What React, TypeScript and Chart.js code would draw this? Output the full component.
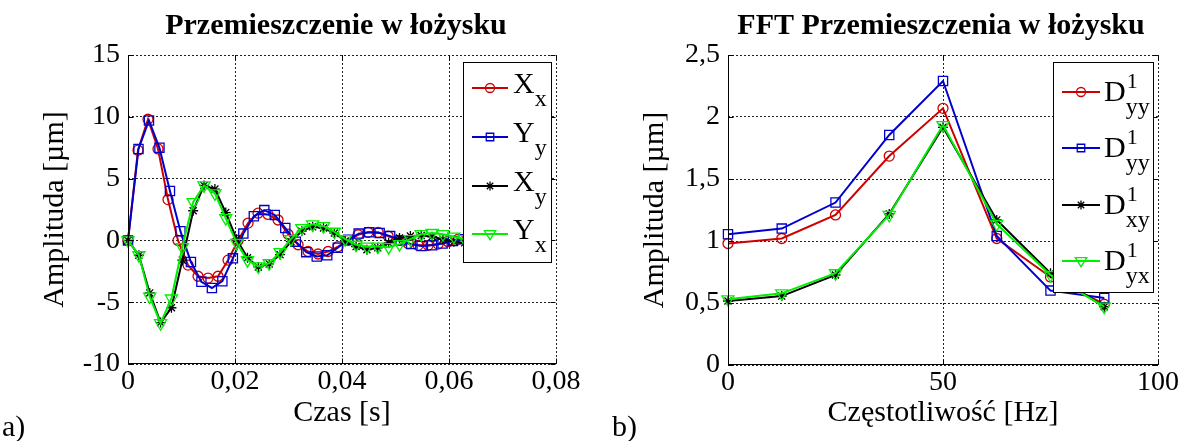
import React, { useEffect, useRef } from "react";
import { Chart, registerables } from "chart.js";

Chart.register(...registerables);

const FONT = "'Liberation Serif', 'Times New Roman', serif";
const RED = "#cc0000";
const BLUE = "#0000cc";
const BLACK = "#000000";
const GREEN = "#00ee00";

// ---- Left chart: displacement in the bearing ----
const timeXx = [0, 0.00187, 0.00374, 0.00561, 0.00748, 0.00935, 0.01122, 0.01309, 0.01496, 0.01683, 0.0187, 0.02057, 0.02244, 0.02431, 0.02618, 0.02805, 0.02992, 0.03179, 0.03366, 0.03553, 0.0374, 0.03927, 0.04114, 0.04301, 0.04488, 0.04675, 0.04862, 0.05049, 0.05236, 0.05423, 0.0561, 0.05797, 0.05984, 0.06171, 0.06358];
const valXx = [0, 7.3, 9.8, 7.4, 3.3, 0.0, -2.0, -2.9, -3.05, -2.9, -1.6, 0.0, 1.4, 2.2, 2.1, 1.65, 0.5, -0.35, -0.9, -1.1, -0.9, -0.5, 0.0, 0.45, 0.65, 0.65, 0.35, 0.0, -0.25, -0.4, -0.4, -0.3, -0.1, 0.1, 0.2];

const timeYy = [0, 0.00196, 0.00392, 0.00588, 0.00784, 0.0098, 0.01176, 0.01372, 0.01568, 0.01764, 0.0196, 0.02156, 0.02352, 0.02548, 0.02744, 0.0294, 0.03136, 0.03332, 0.03528, 0.03724, 0.0392, 0.04116, 0.04312, 0.04508, 0.04704, 0.049, 0.05096, 0.05292, 0.05488, 0.05684, 0.0588, 0.06076, 0.06272, 0.06468];
const valYy = [0, 7.4, 9.7, 7.5, 4.0, 0.75, -1.75, -3.35, -3.85, -3.3, -1.45, 0.55, 1.95, 2.45, 2.05, 1.0, -0.1, -0.95, -1.3, -1.2, -0.6, 0.05, 0.55, 0.65, 0.6, 0.35, 0.0, -0.3, -0.45, -0.4, -0.25, -0.05, 0.1, 0.2];

const timeCross = [0, 0.00203, 0.00406, 0.00609, 0.00812, 0.01015, 0.01218, 0.01421, 0.01624, 0.01827, 0.0203, 0.02233, 0.02436, 0.02639, 0.02842, 0.03045, 0.03248, 0.03451, 0.03654, 0.03857, 0.0406, 0.04263, 0.04466, 0.04669, 0.04872, 0.05075, 0.05278, 0.05481, 0.05684, 0.05887, 0.0609, 0.06293];
const valXy = [0, -1.2, -4.25, -6.65, -5.45, -1.6, 2.4, 4.45, 4.15, 2.25, 0.1, -1.4, -2.15, -1.9, -1.15, -0.1, 0.75, 1.1, 1.0, 0.6, -0.05, -0.5, -0.75, -0.6, -0.2, 0.2, 0.35, 0.4, 0.3, 0.1, -0.1, -0.2];
const valYx = [0, -1.2, -4.55, -6.7, -4.7, -0.55, 3.1, 4.45, 3.8, 1.8, -0.2, -1.6, -2.1, -1.85, -0.95, 0.1, 1.0, 1.3, 1.15, 0.7, 0.1, -0.35, -0.5, -0.5, -0.55, -0.3, 0.1, 0.5, 0.6, 0.5, 0.3, 0.1];

const leftXTicks = [0, 0.02, 0.04, 0.06, 0.08];
const leftYTicks = [-10, -5, 0, 5, 10, 15];

// ---- Right chart: FFT of displacement ----
const freqHz = [0, 12.5, 25, 37.5, 50, 62.5, 75, 87.5];
const fftDyyA = [0.98, 1.02, 1.21, 1.685, 2.07, 1.02, 0.71, 0.49];
const fftDyyB = [1.054, 1.1, 1.31, 1.855, 2.29, 1.04, 0.6, 0.54];
const fftDxy = [0.516, 0.556, 0.726, 1.218, 1.917, 1.17, 0.74, 0.47];
const fftDyx = [0.53, 0.578, 0.74, 1.21, 1.935, 1.137, 0.726, 0.47];

const rightXTicks = [0, 50, 100];
const rightYTicks = [0, 0.5, 1, 1.5, 2, 2.5];

// ---- Texts ----
const leftTitle = "Przemieszczenie w łożysku";
const rightTitle = "FFT Przemieszczenia w łożysku";
const leftXLabel = "Czas [s]";
const rightXLabel = "Częstotliwość [Hz]";
const yLabel = "Amplituda [µm]";
const leftLegendMain = ["X", "Y", "X", "Y"];
const leftLegendSub = ["x", "y", "y", "x"];
const rightLegendMain = ["D", "D", "D", "D"];
const rightLegendSup = ["1", "1", "1", "1"];
const rightLegendSub = ["yy", "yy", "xy", "yx"];

const fmt = (v: number) => String(Math.round(v * 10000) / 10000).replace(".", ",");

type Marker = "circle" | "rect" | "star" | "triangleDown";
const seriesColors = [RED, BLUE, BLACK, GREEN];
const seriesMarkers: Marker[] = ["circle", "rect", "star", "triangleDown"];

function drawMarker(ctx: CanvasRenderingContext2D, m: Marker, x: number, y: number, r: number, color: string) {
  ctx.save();
  ctx.strokeStyle = color;
  ctx.lineWidth = 1.3;
  ctx.beginPath();
  if (m === "circle") {
    ctx.arc(x, y, r, 0, Math.PI * 2);
  } else if (m === "rect") {
    ctx.rect(x - r * 0.75, y - r * 0.75, r * 1.5, r * 1.5);
  } else if (m === "star") {
    for (let k = 0; k < 4; k++) {
      const a = (k * Math.PI) / 4;
      ctx.moveTo(x - Math.cos(a) * r, y - Math.sin(a) * r);
      ctx.lineTo(x + Math.cos(a) * r, y + Math.sin(a) * r);
    }
  } else {
    ctx.moveTo(x - r * 0.95, y - r * 0.55);
    ctx.lineTo(x + r * 0.95, y - r * 0.55);
    ctx.lineTo(x, y + r * 0.95);
    ctx.closePath();
  }
  ctx.stroke();
  ctx.restore();
}

type DecorCfg = {
  title: string;
  titleX: number;
  xLabel: string;
  yLabelX: number;
  panel: string;
  panelX: number;
  box: { x: number; y: number; w: number; h: number };
  rows: number[];
  lineX: [number, number];
  textX: number;
  mains: string[];
  sups: string[] | null;
  subs: string[];
  mainDy: number;
  supDy: number;
  subDy: number;
};

function decorPlugin(cfg: DecorCfg) {
  return {
    id: "decor",
    afterDraw(chart: any) {
      const { ctx, chartArea: ca, scales } = chart;
      const xs = scales.x;
      const ys = scales.y;
      const L = Math.round(ca.left) + 0.5;
      const R = Math.round(ca.right) - 0.5;
      const T = Math.round(ca.top) + 0.5;
      const B = Math.round(ca.bottom) - 0.5;
      ctx.save();
      // solid axes
      ctx.strokeStyle = "#000";
      ctx.lineWidth = 1;
      ctx.setLineDash([]);
      ctx.beginPath();
      ctx.moveTo(L, T - 0.5);
      ctx.lineTo(L, B);
      ctx.lineTo(R + 0.5, B);
      ctx.stroke();
      // inner tick marks on all four sides
      ctx.beginPath();
      for (const t of xs.ticks) {
        const px = Math.round(xs.getPixelForValue(t.value)) + 0.5;
        ctx.moveTo(px, B);
        ctx.lineTo(px, B - 5);
        ctx.moveTo(px, T);
        ctx.lineTo(px, T + 5);
      }
      for (const t of ys.ticks) {
        const py = Math.round(ys.getPixelForValue(t.value)) + 0.5;
        ctx.moveTo(L, py);
        ctx.lineTo(L + 5, py);
        ctx.moveTo(R, py);
        ctx.lineTo(R - 5, py);
      }
      ctx.stroke();

      // title
      ctx.fillStyle = "#000";
      ctx.textAlign = "center";
      ctx.textBaseline = "alphabetic";
      ctx.font = `bold 30px ${FONT}`;
      ctx.fillText(cfg.title, cfg.titleX, 34);
      // x label
      ctx.font = `30px ${FONT}`;
      ctx.fillText(cfg.xLabel, (ca.left + ca.right) / 2, 421);
      // y label
      ctx.save();
      ctx.translate(cfg.yLabelX, (ca.top + ca.bottom) / 2);
      ctx.rotate(-Math.PI / 2);
      ctx.textBaseline = "middle";
      ctx.fillText(yLabel, 0, 0);
      ctx.restore();
      // panel letter
      ctx.textAlign = "left";
      ctx.font = `30px ${FONT}`;
      ctx.fillText(cfg.panel, cfg.panelX, 436);

      // legend
      const b = cfg.box;
      ctx.fillStyle = "#fff";
      ctx.fillRect(b.x, b.y, b.w, b.h);
      ctx.strokeStyle = "#000";
      ctx.lineWidth = 1;
      ctx.strokeRect(b.x + 0.5, b.y + 0.5, b.w, b.h);
      cfg.rows.forEach((ry, i) => {
        const color = seriesColors[i];
        ctx.strokeStyle = color;
        ctx.lineWidth = 2;
        ctx.beginPath();
        ctx.moveTo(cfg.lineX[0], ry);
        ctx.lineTo(cfg.lineX[1], ry);
        ctx.stroke();
        const mx = (cfg.lineX[0] + cfg.lineX[1]) / 2;
        const mr = seriesMarkers[i] === "triangleDown" ? 6 : seriesMarkers[i] === "rect" ? 5 : 4.5;
        drawMarker(ctx, seriesMarkers[i], mx, ry, mr, color);
        ctx.fillStyle = "#000";
        ctx.textAlign = "left";
        ctx.font = `30px ${FONT}`;
        ctx.fillText(cfg.mains[i], cfg.textX, ry + cfg.mainDy);
        const w = ctx.measureText(cfg.mains[i]).width;
        if (cfg.sups) {
          ctx.font = `22px ${FONT}`;
          ctx.fillText(cfg.sups[i], cfg.textX + w + 1, ry + cfg.supDy);
        }
        ctx.font = `24px ${FONT}`;
        ctx.fillText(cfg.subs[i], cfg.textX + w, ry + cfg.subDy);
      });
      ctx.restore();
    },
  };
}

function makeOptions(o: {
  xMin: number; xMax: number; xTicks: number[];
  yMin: number; yMax: number; yTicks: number[];
  padRight: number; xAxisH: number;
}) {
  return {
    responsive: false,
    animation: false as const,
    events: [],
    layout: { padding: { left: 0, right: o.padRight, top: 55, bottom: 0 } },
    plugins: { legend: { display: false }, tooltip: { enabled: false }, title: { display: false } },
    scales: {
      x: {
        type: "linear" as const,
        min: o.xMin,
        max: o.xMax,
        afterBuildTicks: (s: any) => { s.ticks = o.xTicks.map((v) => ({ value: v })); },
        afterFit: (s: any) => { s.height = o.xAxisH; },
        ticks: { font: { family: FONT, size: 28 }, color: "#000", padding: 1, maxRotation: 0, autoSkip: false, callback: (v: any) => fmt(Number(v)) },
        grid: { color: "#222", lineWidth: 1, drawTicks: false },
        border: { display: false, dash: [2, 2] },
      },
      y: {
        type: "linear" as const,
        min: o.yMin,
        max: o.yMax,
        afterBuildTicks: (s: any) => { s.ticks = o.yTicks.map((v) => ({ value: v })); },
        afterFit: (s: any) => { s.width = 128; },
        ticks: { font: { family: FONT, size: 28 }, color: "#000", padding: 8, autoSkip: false, callback: (v: any) => fmt(Number(v)) },
        grid: { color: "#222", lineWidth: 1, drawTicks: false },
        border: { display: false, dash: [2, 2] },
      },
    },
  };
}

function ds(label: string, xs: number[], ys: number[], idx: number, order: number) {
  const m = seriesMarkers[idx];
  const radius = m === "circle" ? 5 : m === "rect" ? 6.5 : m === "star" ? 5 : 7;
  return {
    label,
    data: xs.map((x, i) => ({ x, y: ys[i] })),
    borderColor: seriesColors[idx],
    borderWidth: 2,
    tension: 0,
    fill: false,
    clip: false as const,
    pointStyle: m === "triangleDown" ? "triangle" : m,
    pointRotation: m === "triangleDown" ? 180 : 0,
    pointRadius: radius,
    pointBorderWidth: 1.3,
    pointBorderColor: seriesColors[idx],
    pointBackgroundColor: "rgba(0,0,0,0)",
    order,
  };
}

export default function App() {
  const leftRef = useRef<HTMLCanvasElement>(null);
  const rightRef = useRef<HTMLCanvasElement>(null);

  useEffect(() => {
    const left = new Chart(leftRef.current as HTMLCanvasElement, {
      type: "line",
      data: {
        datasets: [
          ds("Xx", timeXx, valXx, 0, 3),
          ds("Yy", timeYy, valYy, 1, 2),
          ds("Xy", timeCross, valXy, 2, 1),
          ds("Yx", timeCross, valYx, 3, 0),
        ] as any,
      },
      options: makeOptions({ xMin: 0, xMax: 0.08, xTicks: leftXTicks, yMin: -10, yMax: 15, yTicks: leftYTicks, padRight: 44, xAxisH: 77 }) as any,
      plugins: [
        decorPlugin({
          title: leftTitle, titleX: 336, xLabel: leftXLabel, yLabelX: 55, panel: "a)", panelX: 2,
          box: { x: 463, y: 62, w: 88, h: 200 }, rows: [88, 137, 186, 234], lineX: [472, 508], textX: 513,
          mains: leftLegendMain, sups: null, subs: leftLegendSub, mainDy: 5, supDy: 0, subDy: 18,
        }) as any,
      ],
    });

    const right = new Chart(rightRef.current as HTMLCanvasElement, {
      type: "line",
      data: {
        datasets: [
          ds("D1yy", freqHz, fftDyyA, 0, 3),
          ds("D1yy", freqHz, fftDyyB, 1, 2),
          ds("D1xy", freqHz, fftDxy, 2, 1),
          ds("D1yx", freqHz, fftDyx, 3, 0),
        ] as any,
      },
      options: makeOptions({ xMin: 0, xMax: 100, xTicks: rightXTicks, yMin: 0, yMax: 2.5, yTicks: rightYTicks, padRight: 29, xAxisH: 76 }) as any,
      plugins: [
        decorPlugin({
          title: rightTitle, titleX: 341, xLabel: rightXLabel, yLabelX: 55, panel: "b)", panelX: 12,
          box: { x: 453, y: 62, w: 100, h: 230 }, rows: [92, 148, 205, 261], lineX: [462, 500], textX: 504,
          mains: rightLegendMain, sups: rightLegendSup, subs: rightLegendSub, mainDy: 9, supDy: -4, subDy: 22,
        }) as any,
      ],
    });

    return () => {
      left.destroy();
      right.destroy();
    };
  }, []);

  return (
    <div style={{ position: "fixed", left: 0, top: 0, width: 1187, height: 441, background: "#fff", overflow: "hidden" }}>
      <canvas ref={leftRef} width={600} height={441} style={{ position: "absolute", left: 0, top: 0, display: "block" }} />
      <canvas ref={rightRef} width={587} height={441} style={{ position: "absolute", left: 600, top: 0, display: "block" }} />
    </div>
  );
}
